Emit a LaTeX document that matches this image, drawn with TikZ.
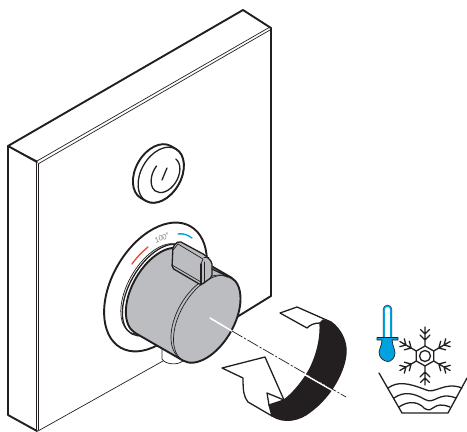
\documentclass[tikz,border=0pt]{standalone}
\usepackage{fontspec}
\setmainfont{Liberation Sans}
\usepackage{tikz}
\usetikzlibrary{arrows.meta,positioning,calc}
\definecolor{knobgray}{HTML}{BCBDC0}
\definecolor{coldblue}{HTML}{00A3E0}
\definecolor{hotred}{HTML}{EF4B3A}
\definecolor{ribbonblack}{HTML}{231F20}
\begin{document}
\begin{tikzpicture}[
    x=1pt, y=-1pt,
    line join=round, line cap=round, color=ribbonblack,
    bold/.style={line width=1.9pt},
    fine/.style={line width=0.7pt},
    medium/.style={line width=1.3pt},
    local/.style={rotate=60, x=1pt, y=1pt}
]
\useasboundingbox (0,0) rectangle (467,432);

% panel
\draw[bold] (37,162) -- (8,146) -- (243,10) -- (271,28) -- (271,296) -- (237,317);
\draw[medium] (8,146) -- (8,415);
\draw[bold] (8,415) -- (37,431);
\draw[fine] (8,146) -- (37,161) -- (270,27);
\draw[fine] (38,164) -- (270,30);
\draw[fine] (36,162) -- (36,431);
\draw[fine] (38.5,164) -- (38.5,430);
\draw[fine] (38,431) -- (163,361);

% power button
\begin{scope}[shift={(161,175)}, local]
  \draw[bold, fill=white] (30,0) arc[start angle=0, end angle=-180, x radius=30, y radius=20]
    -- (-30,6) arc[start angle=180, end angle=0, x radius=30, y radius=20] -- cycle;
  \draw[medium] (0,0) ellipse (30 and 20);
\end{scope}
\begin{scope}[shift={(165.5,175)}, local]
  \draw[medium] (-5:19 and 12.5) arc[start angle=-5, end angle=-280, x radius=19, y radius=12.5];
\end{scope}
\draw[medium] (167,168) -- (162,180);

% stem
\draw[fine, fill=white] (162,345) -- (162,359) .. controls (165,364) and (176,366) .. (183,361);

% plate and knob
\begin{scope}[shift={(207,319)}, local]
  \draw[bold, fill=white] (2,60.6) ellipse (70 and 43.5);
  \draw[medium] (0,58) ellipse (50.5 and 27);
  \draw[fine] (0,60) ellipse (50 and 27);
  \draw[bold, fill=knobgray] (48,0) arc[start angle=0, end angle=-180, x radius=48, y radius=27]
    -- (-48,55) arc[start angle=180, end angle=0, x radius=48, y radius=27] -- cycle;
  \draw[fine] (0,0) ellipse (48 and 27);
  \draw[fine] (46.5,3) arc[start angle=0, end angle=180, x radius=47, y radius=27];
\end{scope}

% lever
\draw[medium, fill=knobgray, rounded corners=2pt] (179,241) -- (173,246) -- (172,268) -- (201,285)
  -- (212,277) -- (212,262) -- (205,255) -- cycle;
\draw[fine] (173,250) -- (178,244) -- (203,259) -- (201,264);
\draw[medium] (201,264) -- (201,285);
\draw[fine] (172,265) -- (201,282);
\draw[fine] (204,257) -- (209,257);
\draw[fine] (204,262) -- (204,283);
\draw[medium] (212,269) -- (233,279);

% scale
\draw[line width=1.4pt, hotred] (132,264) .. controls (137,257) and (142,252) .. (148,247);
\draw[line width=1.4pt, coldblue] (178,234) .. controls (183,233) and (188,235) .. (192,238);
\node[rotate=26, text=gray, font=\fontsize{7.5}{8}\selectfont\itshape, inner sep=0pt] (scale) at (162,238) {100°};

% rotate arrow
\draw[medium, fill=white] (280,313) -- (297,307) -- (331,322) -- (320,323)
  .. controls (314,323) and (310,325) .. (307,328) -- cycle;
\draw[medium, fill=ribbonblack] (323,320) -- (331,322) .. controls (341,329) and (347,342) .. (346,353)
  .. controls (345,370) and (332,396) .. (310,412) .. controls (300,420) and (285,424) .. (272,416)
  -- (269,405) -- (284,400) .. controls (295,392) and (308,375) .. (313,362)
  .. controls (318,350) and (321,335) .. (320,323) -- cycle;
\draw[medium, fill=white] (222,368) -- (265,357) -- (284,400) -- (269,405) -- (272,416) -- (248,402)
  .. controls (244,397) and (243,392) .. (243,378) -- cycle;
\draw[medium, fill=white] (267,393) -- (284,400) -- (269,405) -- cycle;

% axis
\draw[line width=1.5pt, white] (210,318) -- (237,334);
\draw[line width=1.8pt, white] (304,374) -- (332,390);
\draw[fine, dash pattern=on 12pt off 2pt on 2pt off 2pt] (232,331) -- (346,397);

% thermometer
\begin{scope}[shift={(387.5,309.5)}, x=1pt, y=1pt]
  \draw[line width=1.7pt, coldblue] (-3.5,-28.5) -- (-3.5,0) arc[start angle=180, end angle=0, radius=3.5] -- (3.5,-28.5);
  \draw[line width=0.4pt] (-4.5,-28.5) -- (-4.5,0) arc[start angle=180, end angle=0, radius=4.5] -- (4.5,-28.5);
\end{scope}
\draw[fine, fill=coldblue] (377,337.5) -- (398,337.5) -- (398,340) -- (392,340)
  .. controls (393,347) and (395,350) .. (395,353) .. controls (395,358) and (391,361.5) .. (388,361.5)
  .. controls (384,361.5) and (379,358) .. (379,352) .. controls (379,348) and (382,346) .. (382,340) -- (377,340) -- cycle;

% snowflake
\begin{scope}[shift={(425,356)}, x=1pt, y=1pt]
  \draw[medium] (30:10) -- (90:10) -- (150:10) -- (210:10) -- (270:10) -- (330:10) -- cycle;
  \draw[medium] (0,0) circle (5.5);
  \foreach \a in {30,90,...,330}
    \draw[medium, rotate=\a] (10,0) -- (29,0) (16,0) -- (21,5) (16,0) -- (21,-5) (22,0) -- (26.5,4.5) (22,0) -- (26.5,-4.5);
\end{scope}

% basin
\draw[medium] (379,373) -- (402,413) -- (448,413) -- (467,378);
\foreach \y/\l/\r in {388/388/462, 398/394/456, 407/399/450}
  \draw[medium] (\l,\y) .. controls (\l+10,\y-7) and (\l+20,\y-5) .. ({(\l+\r)/2},\y+1.5)
    .. controls ({(\l+\r)/2+10},\y+7) and (\r-18,\y-7) .. (\r,\y);
\end{tikzpicture}
\end{document}
